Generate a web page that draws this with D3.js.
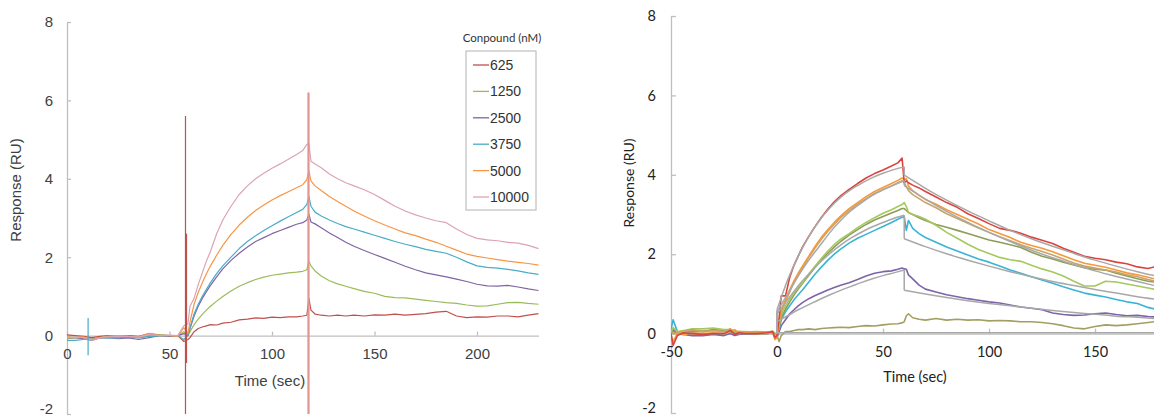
<!DOCTYPE html>
<html><head><meta charset="utf-8">
<script src="https://cdn.jsdelivr.net/npm/d3@7"></script>
<style>body{margin:0;background:#fff} svg{display:block}</style>
</head><body><svg id="c" width="1154" height="419"></svg>
<script>
// ---------- LEFT CHART DATA ----------
const leftXTicks = [0, 50, 100, 150, 200];
const leftYTicks = [-2, 0, 2, 4, 6, 8];
const legendTitle = "Conpound (nM)";
const leftNames = ["625", "1250", "2500", "3750", "5000", "10000"];
const tL = [0,4,8,12,16,20,25,30,35,40,45,50,54,57,59,60,62,64,66,68,70,73,76,80,84,88,92,96,100,104,108,112,115,117,118,119,121,124,128,132,136,140,145,150,155,160,165,170,175,180,185,190,195,200,205,210,215,220,225,230];
const s625 = [0.02,0.0,-0.02,-0.05,-0.02,0.0,-0.02,0.0,-0.02,0.05,0.02,0.0,0.0,-0.15, -0.1,-0.05, 0.1,0.18,0.22,0.25,0.28, 0.27,0.32, 0.34,0.4,0.42,0.45,0.44,0.47,0.46,0.48,0.48, 0.5,0.52,0.95,0.65, 0.55,0.52,0.5,0.52,0.5,0.52, 0.5,0.53,0.52,0.55,0.52,0.54,0.56,0.6,0.62,0.5,0.46,0.48,0.47,0.5,0.5,0.48,0.52,0.56];
const s1250 = [-0.08,-0.06,-0.05,-0.1,-0.05,-0.02,-0.03,-0.02,-0.05,0.0,0.02,0.0,0.0,0.1, 0.0,0.1, 0.28,0.42,0.54,0.65,0.75, 0.88,1.0, 1.14,1.26,1.35,1.43,1.49,1.54,1.57,1.6,1.62, 1.64,1.68,1.9,1.78, 1.65,1.52,1.4,1.32,1.26,1.2, 1.13,1.08,1.0,0.97,0.96,0.93,0.9,0.87,0.84,0.82,0.78,0.75,0.76,0.8,0.84,0.85,0.82,0.8];
const s2500 = [-0.05,-0.05,-0.08,-0.12,-0.06,-0.05,-0.08,-0.06,-0.1,-0.05,0.0,-0.02,0.0,0.05, 0.0,0.18, 0.5,0.75,0.95,1.12,1.28, 1.5,1.7, 1.92,2.1,2.26,2.4,2.5,2.6,2.68,2.76,2.84, 2.88,2.95,3.1,2.9, 2.85,2.75,2.62,2.5,2.38,2.28, 2.17,2.07,1.97,1.87,1.77,1.68,1.6,1.55,1.5,1.44,1.38,1.31,1.27,1.26,1.28,1.24,1.19,1.15];
const s3750 = [-0.12,-0.12,-0.1,-0.08,-0.06,-0.05,-0.06,-0.04,-0.06,-0.02,-0.01,0.0,0.0,-0.1, 0.0,0.2, 0.55,0.8,1.0,1.18,1.35, 1.58,1.78, 2.0,2.22,2.4,2.55,2.68,2.8,2.92,3.03,3.14, 3.22,3.35,3.55,3.3, 3.15,3.05,2.95,2.86,2.78,2.72, 2.64,2.56,2.48,2.4,2.33,2.27,2.2,2.15,2.1,2.0,1.88,1.78,1.74,1.72,1.69,1.65,1.6,1.56];
const s5000 = [-0.03,-0.05,-0.03,-0.1,-0.06,-0.02,0.0,-0.02,-0.03,0.06,0.0,0.0,-0.02,0.2, 0.05,0.35, 0.8,1.1,1.35,1.58,1.78, 2.05,2.3, 2.58,2.82,3.02,3.19,3.33,3.46,3.57,3.67,3.77, 3.85,3.98,4.2,3.95, 3.82,3.7,3.55,3.42,3.3,3.18, 3.05,2.93,2.82,2.72,2.62,2.55,2.46,2.38,2.28,2.18,2.08,2.02,1.98,1.94,1.9,1.87,1.84,1.8];
const s10000 = [-0.06,-0.04,-0.05,-0.12,-0.06,-0.03,-0.02,-0.02,-0.04,0.03,0.0,0.01,0.0,0.25, 0.3,0.75, 0.95,1.3,1.6,1.9,2.15, 2.6,2.95, 3.3,3.6,3.82,4.0,4.14,4.27,4.38,4.5,4.62, 4.72,4.88,4.9,4.45, 4.38,4.28,4.12,4.0,3.9,3.82, 3.72,3.6,3.45,3.3,3.18,3.08,3.0,2.93,2.88,2.72,2.58,2.48,2.44,2.42,2.38,2.36,2.3,2.22];
const leftSeries = [s625, s1250, s2500, s3750, s5000, s10000];
// injection spikes: time, top, bottom, series index
const leftSpikeT = [10.3, 57.8, 58.3, 117.8];
const leftSpikeTop = [0.45, 5.6, 2.6, 6.2];
const leftSpikeBottom = [-0.5, -2, -0.7, -2];
const leftSpikeSeries = [3, 0, 0, 0];

// ---------- RIGHT CHART DATA ----------
const rightXTicks = [-50, 0, 50, 100, 150];
const rightYTicks = [-2, 0, 2, 4, 6, 8];
const tR = [-50,-49,-47,-44,-40,-35,-30,-25,-22,-20,-18,-15,-10,-5,-2,-1,0,
  1,2,4,6,8,10,12,15,18,21,24,27,30,34,38,42,46,50,54,57,59,60,
  61,62,64,67,70,75,80,85,90,95,100,105,110,115,120,125,130,135,140,145,150,155,160,165,170,175,178];
const rRed = [0.0,-0.3,-0.05,0.02,0.0,-0.02,0.0,0.0,0.08,-0.02,0.02,0.0,0.0,0.02,0.05,-0.1,-0.05,
  0.4,0.95,0.95,1.42,1.72,1.95,2.18,2.45,2.7,2.93,3.14,3.32,3.47,3.63,3.78,3.92,4.03,4.12,4.22,4.3,4.42,3.8,
  3.85,3.8,3.74,3.67,3.58,3.44,3.3,3.18,3.02,2.9,2.77,2.65,2.6,2.53,2.43,2.35,2.27,2.15,2.05,1.95,1.9,1.86,1.8,1.76,1.68,1.64,1.68];
const rOrange = [-0.05,-0.2,0.0,-0.03,0.02,0.0,0.02,0.0,0.05,0.1,0.0,0.02,0.0,0.0,0.02,-0.15,-0.1,
  0.3,0.6,0.85,1.1,1.33,1.52,1.7,1.95,2.2,2.43,2.62,2.8,2.96,3.15,3.3,3.45,3.58,3.68,3.78,3.86,3.92,3.88,
  3.9,3.72,3.6,3.48,3.38,3.26,3.12,3.0,2.88,2.76,2.62,2.52,2.42,2.3,2.22,2.15,2.06,1.96,1.86,1.77,1.72,1.67,1.6,1.53,1.48,1.42,1.38];
const rTan = [0.05,0.0,0.02,0.05,0.1,0.05,0.08,0.05,0.12,0.05,0.05,0.04,0.05,0.04,0.05,0.0,0.0,
  0.25,0.55,0.8,1.05,1.28,1.48,1.66,1.92,2.16,2.38,2.58,2.75,2.92,3.1,3.26,3.4,3.53,3.63,3.72,3.8,3.85,3.8,
  3.7,3.6,3.5,3.4,3.3,3.17,3.02,2.9,2.78,2.66,2.55,2.44,2.34,2.24,2.15,2.07,1.98,1.88,1.78,1.7,1.65,1.6,1.55,1.48,1.43,1.36,1.33];
const rGreen = [0.02,0.15,0.05,0.08,0.12,0.12,0.14,0.1,0.1,0.06,0.05,0.05,0.04,0.04,0.06,-0.05,0.0,
  0.2,0.5,0.7,0.87,1.03,1.16,1.28,1.5,1.7,1.9,2.08,2.24,2.38,2.52,2.67,2.8,2.92,3.03,3.12,3.2,3.25,3.3,
  3.2,3.05,3.0,2.95,2.88,2.73,2.55,2.4,2.25,2.12,2.02,1.92,1.86,1.82,1.72,1.63,1.55,1.45,1.32,1.2,1.2,1.32,1.3,1.25,1.2,1.15,1.12];
const rOlive = [0.0,0.05,0.02,0.05,0.08,0.06,0.1,0.08,0.06,0.04,0.04,0.03,0.04,0.03,0.05,0.0,0.0,
  0.15,0.4,0.62,0.8,0.97,1.12,1.26,1.47,1.67,1.86,2.03,2.18,2.32,2.48,2.62,2.75,2.86,2.95,3.04,3.1,3.15,3.15,
  3.1,3.05,3.0,2.92,2.85,2.75,2.68,2.6,2.52,2.44,2.36,2.3,2.24,2.17,2.05,1.95,1.88,1.8,1.73,1.66,1.62,1.6,1.52,1.45,1.38,1.32,1.3];
const rCyan = [0.1,0.35,0.05,0.0,0.02,-0.02,0.0,0.0,0.05,0.0,0.02,0.0,0.0,0.0,0.02,-0.1,0.0,
  0.1,0.35,0.55,0.7,0.85,0.98,1.1,1.3,1.5,1.68,1.85,2.0,2.13,2.28,2.4,2.5,2.6,2.7,2.8,2.88,2.93,2.95,
  2.6,2.85,2.65,2.52,2.42,2.3,2.18,2.08,1.98,1.88,1.8,1.7,1.6,1.52,1.43,1.35,1.27,1.18,1.1,1.02,0.97,0.92,0.86,0.8,0.76,0.66,0.62];
const rPurple = [-0.02,0.1,0.0,-0.02,-0.05,-0.05,-0.02,-0.05,0.0,-0.05,-0.02,0.0,0.0,0.0,0.02,-0.05,-0.1,
  0.05,0.2,0.35,0.5,0.6,0.7,0.78,0.88,0.96,1.03,1.1,1.16,1.22,1.28,1.36,1.45,1.52,1.56,1.58,1.62,1.65,1.63,
  1.62,1.48,1.38,1.22,1.12,1.05,0.98,0.93,0.88,0.84,0.8,0.77,0.72,0.67,0.64,0.6,0.52,0.48,0.46,0.47,0.5,0.52,0.48,0.45,0.46,0.43,0.42];
const rBrown = [0.0,0.1,0.02,0.05,0.06,0.05,0.08,0.06,0.1,0.06,0.04,0.04,0.04,0.03,0.05,0.0,-0.05,
  -0.2,-0.05,0.05,0.05,0.08,0.1,0.1,0.12,0.1,0.13,0.14,0.15,0.16,0.15,0.18,0.2,0.19,0.22,0.24,0.25,0.27,0.3,
  0.45,0.5,0.4,0.36,0.34,0.38,0.34,0.36,0.34,0.35,0.32,0.33,0.32,0.3,0.3,0.28,0.25,0.2,0.14,0.12,0.18,0.22,0.2,0.22,0.25,0.28,0.3];
const rightSeries = [rBrown, rPurple, rCyan, rOlive, rGreen, rTan, rOrange, rRed];
// fitted curves: association (0-60 s) and dissociation (60-178 s)
const fitTa = [0,5,10,15,20,25,30,35,40,45,50,55,60];
const fitTd = [60,70,80,90,100,110,120,130,140,150,160,170,178];
const fit1a = [0.6,1.35,1.95,2.45,2.85,3.17,3.43,3.63,3.79,3.93,4.04,4.13,4.2];
const fit1d = [3.99,3.66,3.36,3.09,2.84,2.6,2.39,2.2,2.02,1.85,1.7,1.56,1.46];
const fit2a = [0.55,1.0,1.45,1.85,2.2,2.55,2.85,3.1,3.3,3.48,3.62,3.74,3.85];
const fit2d = [3.73,3.39,3.08,2.8,2.55,2.32,2.1,1.91,1.74,1.58,1.44,1.31,1.21];
const fit3a = [0.5,0.85,1.2,1.5,1.78,2.02,2.23,2.41,2.56,2.69,2.8,2.9,2.98];
const fit3d = [2.39,2.19,2.01,1.85,1.7,1.56,1.43,1.31,1.21,1.11,1.02,0.93,0.87];
const fit4a = [0.3,0.45,0.6,0.73,0.86,0.98,1.09,1.19,1.29,1.38,1.46,1.53,1.6];
const fit4d = [1.09,1.0,0.91,0.83,0.76,0.7,0.64,0.58,0.53,0.49,0.44,0.41,0.38];
const fit5a = [0.02,0.02,0.02,0.02,0.02,0.02,0.02,0.02,0.02,0.02,0.02,0.02,0.02];
const fit5d = [0.02,0.02,0.02,0.02,0.02,0.02,0.02,0.02,0.02,0.02,0.02,0.02,0.02];
const fitsA = [fit1a, fit2a, fit3a, fit4a, fit5a];
const fitsD = [fit1d, fit2d, fit3d, fit4d, fit5d];

// ---------- STYLES ----------
const leftColors = ["#c0504d", "#9bbb59", "#8064a2", "#4bacc6", "#f79646", "#dba3b6"];
const rightColors = ["#a39f62", "#7d64a8", "#3bb4d4", "#8c9d58", "#a6c85e", "#c9a46a", "#f59a3c", "#d9453e"];
const fitColor = "#a8a8a8";
const axisColor = "#bfbfbf";
const fmt = d => String(d);

const svg = d3.select("#c");
svg.append("rect").attr("width", 1154).attr("height", 419).attr("fill", "#fff");

function styleAxis(g, font, size, color) {
  g.select(".domain").attr("stroke", axisColor).attr("stroke-width", 1.3);
  g.selectAll(".tick line").attr("stroke", axisColor).attr("stroke-width", 1.3);
  g.selectAll(".tick text").attr("font-family", font).attr("font-size", size).attr("fill", color);
  // keep the bottom label inside the picture
  g.selectAll(".tick").filter(d => d === -2).select("text").attr("dy", "-0.05em");
}

// ---------- LEFT ----------
const xL = d3.scaleLinear().domain([0, 230]).range([67, 538.5]);
const yL = d3.scaleLinear().domain([-2, 8]).range([414, 22]);
const fontL = "'Liberation Sans', Arial, sans-serif";

svg.append("clipPath").attr("id", "clipL").append("rect")
  .attr("x", 67).attr("y", 22).attr("width", 472).attr("height", 392);

const gLy = svg.append("g").attr("transform", `translate(${xL(0)},0)`)
  .call(d3.axisLeft(yL).tickValues(leftYTicks).tickFormat(fmt).tickSize(-4).tickSizeOuter(0).tickPadding(14));
styleAxis(gLy, fontL, 15, "#404040");
const gLx = svg.append("g").attr("transform", `translate(0,${yL(0)})`)
  .call(d3.axisBottom(xL).tickValues(leftXTicks).tickFormat(fmt).tickSize(-4).tickSizeOuter(0).tickPadding(13));
styleAxis(gLx, fontL, 15, "#404040");

const plotL = svg.append("g").attr("clip-path", "url(#clipL)");
leftSeries.forEach((s, k) => {
  plotL.append("path").datum(s)
    .attr("fill", "none").attr("stroke", leftColors[k]).attr("stroke-width", 1.2)
    .attr("stroke-linejoin", "round")
    .attr("d", d3.line().x((d, i) => xL(tL[i])).y(d => yL(d)));
});
leftSpikeT.forEach((t, i) => {
  plotL.append("line")
    .attr("x1", xL(t)).attr("x2", xL(t))
    .attr("y1", yL(leftSpikeBottom[i])).attr("y2", yL(leftSpikeTop[i]))
    .attr("stroke", i === 3 ? "#e2948e" : leftColors[leftSpikeSeries[i]])
    .attr("stroke-width", i === 3 ? 2.2 : 1.2);
});

svg.append("text").attr("transform", "translate(21,190) rotate(-90)")
  .attr("text-anchor", "middle").attr("font-family", fontL).attr("font-size", 15)
  .attr("fill", "#404040").text("Response (RU)");
svg.append("text").attr("x", 270).attr("y", 386)
  .attr("text-anchor", "middle").attr("font-family", fontL).attr("font-size", 15)
  .attr("fill", "#404040").text("Time (sec)");

// legend
svg.append("text").attr("x", 502).attr("y", 42).attr("text-anchor", "middle")
  .attr("font-family", "Lato, sans-serif").attr("font-size", 11.5).attr("fill", "#333")
  .text(legendTitle);
svg.append("rect").attr("x", 466).attr("y", 51).attr("width", 70).attr("height", 159)
  .attr("fill", "#fff").attr("stroke", axisColor).attr("stroke-width", 1.2);
const legY = d3.scalePoint().domain(leftNames).range([65, 197]);
leftNames.forEach((n, k) => {
  svg.append("line").attr("x1", 473).attr("x2", 489).attr("y1", legY(n)).attr("y2", legY(n))
    .attr("stroke", leftColors[k]).attr("stroke-width", 1.3);
  svg.append("text").attr("x", 490).attr("y", legY(n)).attr("dy", "0.36em")
    .attr("font-family", fontL).attr("font-size", 14).attr("fill", "#333").text(n);
});

// ---------- RIGHT ----------
const xR = d3.scaleLinear().domain([-50, 178]).range([671, 1154.4]);
const yR = d3.scaleLinear().domain([-2, 8]).range([413, 16]);
const fontR = "Lato, 'Open Sans', sans-serif";

svg.append("clipPath").attr("id", "clipR").append("rect")
  .attr("x", 671).attr("y", 16).attr("width", 484).attr("height", 398);

const gRy = svg.append("g").attr("transform", `translate(${xR(-50)},0)`)
  .call(d3.axisLeft(yR).tickValues(rightYTicks).tickFormat(fmt).tickSize(-5).tickSizeOuter(0).tickPadding(15));
styleAxis(gRy, fontR, 14.5, "#222");
const gRx = svg.append("g").attr("transform", `translate(0,${yR(0)})`)
  .call(d3.axisBottom(xR).tickValues(rightXTicks).tickFormat(fmt).tickSize(-5).tickSizeOuter(0).tickPadding(13));
styleAxis(gRx, fontR, 14.5, "#222");

const plotR = svg.append("g").attr("clip-path", "url(#clipR)");
rightSeries.forEach((s, k) => {
  plotR.append("path").datum(s)
    .attr("fill", "none").attr("stroke", rightColors[k]).attr("stroke-width", 1.6)
    .attr("stroke-linejoin", "round")
    .attr("d", d3.line().x((d, i) => xR(tR[i])).y(d => yR(d)));
});
const smooth = (ts) => d3.line().x((d, i) => xR(ts[i])).y(d => yR(d)).curve(d3.curveMonotoneX);
fitsA.forEach((a, k) => {
  const d = fitsD[k];
  const g = plotR.append("g").attr("fill", "none").attr("stroke", fitColor).attr("stroke-width", 1.5);
  g.append("line").attr("x1", xR(0)).attr("x2", xR(0)).attr("y1", yR(0)).attr("y2", yR(a[0]));
  g.append("path").datum(a).attr("d", smooth(fitTa));
  g.append("line").attr("x1", xR(60)).attr("x2", xR(60)).attr("y1", yR(a[a.length - 1])).attr("y2", yR(d[0]));
  g.append("path").datum(d).attr("d", smooth(fitTd));
});

svg.append("text").attr("transform", "translate(634,183) rotate(-90)")
  .attr("text-anchor", "middle").attr("font-family", fontR).attr("font-size", 14)
  .attr("fill", "#222").text("Response (RU)");
svg.append("text").attr("x", 915).attr("y", 382)
  .attr("text-anchor", "middle").attr("font-family", fontR).attr("font-size", 14.5)
  .attr("fill", "#222").text("Time (sec)");
</script></body></html>
